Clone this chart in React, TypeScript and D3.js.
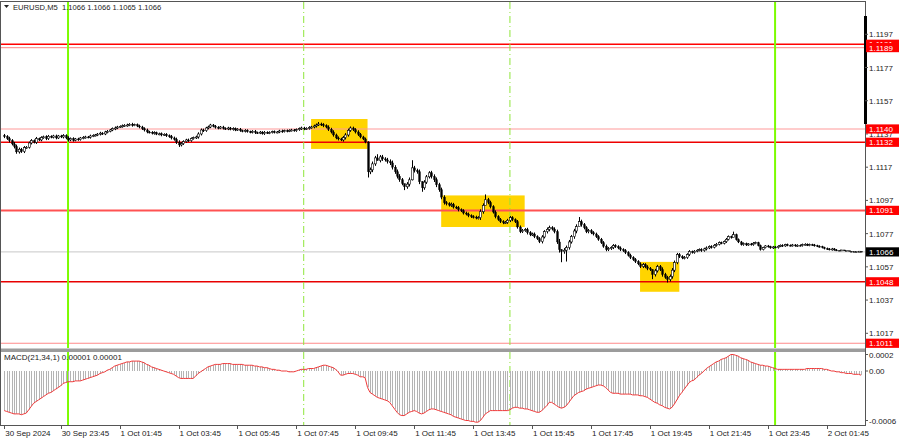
import React from "react";
import * as d3 from "d3";

// close prices, in pips above 1.1000 (5-minute bars from 30 Sep 21:50)
const closes = [
  135.5, 134.2, 133.0, 131.0, 129.5, 126.2, 127.8, 126.4, 128.8, 129.0,
  131.6, 133.0, 132.0, 134.2, 133.4, 134.8, 135.3, 134.2, 135.6, 135.0,
  135.8, 134.6, 135.8, 135.2, 136.0, 134.6, 133.4, 134.2, 133.2, 134.0,
  133.6, 134.6, 134.9, 135.2, 135.0, 135.8, 136.1, 136.4, 136.9, 137.5,
  137.0, 138.2, 138.6, 139.4, 140.2, 140.6, 141.2, 141.6, 141.9, 142.2,
  142.4, 142.8, 142.3, 142.6, 141.8, 141.2, 140.1, 139.4, 138.2, 138.0,
  137.4, 137.8, 136.9, 137.1, 136.4, 136.8, 135.9, 135.5, 134.6, 133.8,
  132.0, 130.4, 131.2, 132.4, 133.4, 133.0, 134.2, 134.8, 135.2, 137.0,
  139.4, 139.0, 140.6, 141.2, 142.4, 141.6, 141.0, 140.5, 141.2, 140.4,
  140.0, 140.6, 139.8, 140.2, 139.4, 139.9, 139.0, 138.6, 139.2, 138.4,
  138.0, 138.6, 137.8, 137.6, 138.1, 137.2, 138.0, 137.6, 137.9, 138.4,
  138.0, 138.2, 138.8, 138.5, 139.0, 138.7, 139.2, 139.4, 139.0, 139.6,
  140.2, 140.6, 140.0, 140.4, 140.9, 141.2, 141.8, 142.4, 143.0, 142.6,
  142.0, 141.2, 139.8, 138.2, 136.4, 134.6, 134.0, 133.4, 134.8, 136.4,
  139.2, 140.6, 139.6, 138.2, 136.8, 135.2, 134.0, 132.2, 114.2, 115.4,
  119.0, 122.6, 121.0, 123.2, 122.0, 121.4, 120.4, 119.6, 117.0, 114.2,
  111.6, 109.4, 107.2, 105.2, 106.8, 109.4, 116.6, 115.0, 114.2, 108.2,
  104.6, 108.0, 111.2, 113.6, 111.4, 109.4, 106.4, 103.4, 99.0, 95.6,
  95.0, 94.2, 94.6, 93.0, 92.6, 91.4, 90.8, 89.4, 88.8, 87.8,
  87.2, 87.0, 86.4, 86.6, 90.2, 94.0, 97.4, 95.8, 93.2, 90.0,
  87.2, 85.6, 84.2, 83.6, 83.8, 85.0, 86.6, 85.4, 84.2, 81.0,
  78.2, 79.0, 79.4, 77.6, 76.4, 76.8, 75.2, 74.0, 72.2, 75.0,
  78.2, 79.6, 80.6, 79.8, 78.2, 72.0, 67.4, 66.2, 67.0, 68.6,
  72.0, 75.2, 78.6, 81.2, 84.2, 82.4, 80.6, 78.2, 78.8, 77.6,
  76.8, 75.2, 73.6, 71.6, 69.4, 67.4, 68.0, 68.6, 69.8, 69.2,
  68.4, 67.4, 66.8, 65.6, 64.0, 62.6, 61.4, 60.2, 58.8, 57.2,
  58.4, 57.0, 56.0, 55.4, 52.4, 54.6, 57.2, 55.4, 52.4, 50.8,
  49.4, 51.2, 55.0, 59.6, 64.4, 63.2, 62.4, 62.6, 64.4, 66.2,
  65.6, 66.4, 67.0, 67.4, 66.8, 67.8, 68.4, 69.2, 68.8, 70.0,
  70.6, 71.6, 71.2, 72.2, 73.6, 75.2, 74.6, 76.4, 73.4, 72.0,
  70.4, 71.0, 70.2, 70.8, 70.4, 71.2, 71.6, 69.8, 67.4, 68.6,
  69.6, 69.2, 68.4, 69.0, 68.6, 69.4, 70.0, 69.6, 70.4, 70.0,
  69.8, 70.2, 69.6, 70.0, 69.8, 70.4, 70.6, 70.0, 70.4, 70.2,
  69.8, 69.4, 69.2, 68.6, 68.0, 67.8, 67.4, 67.8, 67.2, 67.0,
  66.8, 67.2, 66.6, 66.8, 66.4, 66.0, 66.2, 65.8, 66.4, 66.0,
];
const firstOpen = 136.0;

// wick length beyond the body, tenths of a pip
const wicks = [
  10,8,11,9,12,11,10,8,9,7, 8,9,7,10,6,8,7,9,8,6, 7,8,6,7,9,8,10,7,8,6, 7,6,8,7,6,8,7,6,7,8,
  6,7,8,6,7,9,7,6,8,7, 8,7,9,6,7,8,7,9,8,7, 7,8,6,7,8,6,7,8,9,8, 10,12,9,8,7,8,7,6,8,10,
  9,8,7,8,7,6,8,7,6,7, 6,7,6,8,7,6,7,6,7,6, 6,7,8,6,7,6,8,6,7,6, 7,6,7,8,6,7,6,7,6,7,
  7,8,7,6,8,7,8,9,10,8, 9,8,10,9,10,8,9,7,10,11, 10,9,8,9,10,8,7,8,20,14,
  14,12,10,11,12,10,12,13,14,12, 14,12,11,13,12,14,16,12,11,14, 15,12,11,10,12,13,14,12,13,11,
  10,9,11,9,8,10,8,9,8,9, 8,9,8,9,14,12,16,11,10,9, 10,9,8,9,8,9,10,9,8,10,
  9,8,9,11,9,8,9,8,9,11, 9,11,12,9,10,12,18,14,13,12, 12,10,13,14,14,12,10,9,10,9,
  9,8,9,8,9,10,9,8,9,8, 8,9,8,9,8,9,8,9,8,9, 9,8,10,9,14,12,10,9,13,10,
  14,12,13,12,10,9,8,9,8,9, 6,7,6,7,8,7,9,7,8,7, 8,7,6,7,8,7,6,7,6,7,
  6,7,6,5,6,7,6,5,6,5, 5,6,5,6,5,6,5,6,5,6, 5,6,5,6,5,6,6,5,6,5, 6,5,6,5,5,6,5,6,5,5,
];

// bars with long shadows: index, high, low (pips)
const spikeBars = [128, 148, 152, 163, 166, 170, 196, 227, 229, 234, 264, 270, 297];
const spikeHighs = [144.2, 132.6, 124.8, 107.0, 121.2, 108.6, 100.6, 67.6, 69.8, 87.0, 55.6, 51.6, 78.2];
const spikeLows = [141.8, 110.8, 121.0, 103.2, 109.0, 102.2, 94.5, 59.8, 60.2, 83.2, 49.6, 47.6, 75.8];

// MACD(21,34,1) main, units of 0.00001
const macdValues = [
  -48,-49,-50,-51,-52,-52,-52,-53,-52,-51, -47,-43,-39,-37,-35,-33,-31,-29,-27,-26,
  -24,-22,-20,-18,-15,-14,-13,-13,-13,-12, -12,-12,-11,-10,-9,-8,-7,-6,-5,-3,
  -2,-1,1,2,4,6,7,8,9,10, 11,11,12,12,12,12,11,10,8,7,
  5,4,3,2,1,0,-1,-2,-3,-4, -6,-8,-9,-9,-9,-9,-9,-9,-6,-3,
  -1,1,3,5,6,7,8,8,8,9, 9,9,9,8,8,8,8,8,7,7,
  7,7,6,6,5,5,4,4,3,2, 2,1,1,0,0,0,-1,-1,-1,0,
  1,2,2,2,3,3,3,4,5,6, 7,7,6,5,4,2,-1,-5,-5,-4,
  -3,-3,-3,-4,-5,-7,-7,-8,-20,-26, -28,-30,-32,-33,-34,-35,-36,-38,-42,-46,
  -50,-53,-54,-54,-52,-50,-49,-48,-49,-51, -52,-51,-49,-47,-46,-46,-47,-48,-49,-50,
  -51,-52,-53,-55,-56,-57,-58,-59,-60,-60, -61,-61,-62,-62,-60,-56,-52,-50,-48,-48,
  -48,-48,-48,-48,-48,-48,-47,-45,-44,-44, -45,-45,-46,-46,-47,-48,-49,-50,-50,-48,
  -45,-42,-38,-38,-40,-42,-44,-45,-44,-42, -38,-34,-30,-28,-26,-25,-24,-22,-21,-20,
  -19,-18,-17,-17,-18,-20,-23,-26,-27,-27, -27,-28,-28,-28,-28,-28,-29,-29,-29,-30,
  -30,-31,-32,-34,-36,-38,-39,-41,-42,-44, -45,-46,-44,-40,-35,-30,-26,-22,-18,-14,
  -12,-11,-8,-5,-3,0,3,5,7,9, 11,12,14,15,16,18,20,20,19,18,
  16,15,14,13,11,10,9,8,7,7, 6,6,5,4,3,2,2,2,2,2,
  2,2,2,2,2,2,2,3,3,3, 3,3,3,3,2,2,1,0,0,-1,
  -1,-2,-2,-3,-3,-3,-4,-4,-4,-5,
];

const priceTicks = [1.1197, 1.1177, 1.1157, 1.1137, 1.1117, 1.1097, 1.1077, 1.1057, 1.1037, 1.1017];
const macdTicks = [0.0002, 0, -0.0006];
const macdTickLabels = ["0.0002", "0.00", "-0.0006"];

const timeTickBars = [0, 23, 47, 71, 95, 119, 143, 167, 191, 215, 239, 263, 287, 311, 335];
const timeTickLabels = [
  "30 Sep 2024", "30 Sep 23:45", "1 Oct 01:45", "1 Oct 03:45", "1 Oct 05:45", "1 Oct 07:45",
  "1 Oct 09:45", "1 Oct 11:45", "1 Oct 13:45", "1 Oct 15:45", "1 Oct 17:45", "1 Oct 19:45",
  "1 Oct 21:45", "1 Oct 23:45", "2 Oct 01:45",
];

const levelPrices = [1.1191, 1.1189, 1.1140, 1.1132, 1.1091, 1.1048, 1.1011];
const levelLabels = ["1.1191", "1.1189", "1.1140", "1.1132", "1.1091", "1.1048", "1.1011"];
const levelColors = ["#ff0000", "#ff9a9a", "#ff9a9a", "#ee0000", "#ff5252", "#e80000", "#ff8a8a"];
const levelWidths = [1.5, 1.2, 1.2, 1.5, 2, 1.5, 1.2];

const currentPrice = 1.1066;

const solidVBars = [26, 314];
const dashedVBars = [122, 206];

const boxStartBars = [125, 178, 259];
const boxEndBars = [148, 212, 275];
const boxHighs = [1.1146, 1.1100, 1.1060];
const boxLows = [1.1128, 1.1081, 1.1042];

const titleText = "EURUSD,M5  1.1066 1.1066 1.1065 1.1066";
const macdTitle = "MACD(21,34,1) 0.00001 0.00001";

const FONT = "'Liberation Sans', Arial, sans-serif";

export default function App() {
  const W = 900, H = 441;
  const axisX = 865;
  const mainTop = 2, mainBottom = 348;
  const macdTop = 352, macdBottom = 425;

  const x = d3.scaleLinear().domain([0, closes.length - 1]).range([4.2, 861]);
  const y = d3.scaleLinear().domain([1.1017, 1.1197]).range([333.3, 34.3]);
  const ym = d3.scaleLinear().domain([-0.0006, 0]).range([420.5, 371]);
  const p = (v: number) => 1.1 + v / 10000;

  const bars = closes.map((c, i) => {
    const o = i === 0 ? firstOpen : closes[i - 1];
    const w = wicks[i] / 10;
    let hi = Math.max(o, c) + w;
    let lo = Math.min(o, c) - w;
    const k = spikeBars.indexOf(i);
    if (k >= 0) { hi = spikeHighs[k]; lo = spikeLows[k]; }
    return { i, o, c, hi, lo };
  });

  const macdLine = d3.line<number>()
    .x((_, i) => x(i))
    .y((d) => ym(d * 1e-5))(macdValues) || "";

  const bodyW = 2;

  return (
    <svg width={W} height={H} style={{ position: "absolute", left: 0, top: 0, background: "#fff" }}
      fontFamily={FONT}>
      <rect x={0} y={0} width={W} height={H} fill="#fff" />
      <defs>
        <clipPath id="mainClip"><rect x={0} y={mainTop} width={axisX} height={mainBottom - mainTop} /></clipPath>
        <clipPath id="macdClip"><rect x={0} y={macdTop} width={axisX} height={macdBottom - macdTop} /></clipPath>
      </defs>

      {/* main panel */}
      <g clipPath="url(#mainClip)">
        {boxStartBars.map((b, k) => (
          <rect key={"bx" + k} x={x(b)} y={y(boxHighs[k])} width={x(boxEndBars[k]) - x(b)}
            height={y(boxLows[k]) - y(boxHighs[k])} fill="#ffd400" />
        ))}
        <line x1={0} x2={axisX} y1={y(currentPrice)} y2={y(currentPrice)} stroke="#c8c8c8" strokeWidth={1} />
        {levelPrices.map((lp, k) => (
          <line key={"lv" + k} x1={0} x2={axisX} y1={y(lp)} y2={y(lp)} stroke={levelColors[k]} strokeWidth={levelWidths[k]} />
        ))}
        {solidVBars.map((b) => (
          <line key={"sv" + b} x1={x(b)} x2={x(b)} y1={mainTop} y2={mainBottom} stroke="#7cfc00" strokeWidth={2} />
        ))}
        {dashedVBars.map((b) => (
          <line key={"dv" + b} x1={x(b)} x2={x(b)} y1={mainTop} y2={mainBottom} stroke="#8ee63a" strokeWidth={1} strokeDasharray="7,3,1,3" />
        ))}
        {bars.map((d) => {
          const cx = Math.round(x(d.i)) + 0.5;
          const top = y(p(Math.max(d.o, d.c)));
          const bot = y(p(Math.min(d.o, d.c)));
          const bull = d.c > d.o;
          return (
            <g key={"c" + d.i}>
              <line x1={cx} x2={cx} y1={y(p(d.hi))} y2={y(p(d.lo))} stroke="#000" strokeWidth={1} />
              <rect x={cx - bodyW / 2} y={top} width={bodyW} height={Math.max(bot - top, 1)}
                fill={bull ? "#fff" : "#000"} stroke="#000" strokeWidth={bull ? 0.6 : 0.3} />
            </g>
          );
        })}
      </g>

      {/* separator */}
      <rect x={0} y={348.5} width={axisX} height={3.5} fill="#9c9c9c" />

      {/* MACD panel */}
      <g clipPath="url(#macdClip)">
        {solidVBars.map((b) => (
          <line key={"msv" + b} x1={x(b)} x2={x(b)} y1={macdTop} y2={macdBottom} stroke="#7cfc00" strokeWidth={2} />
        ))}
        {dashedVBars.map((b) => (
          <line key={"mdv" + b} x1={x(b)} x2={x(b)} y1={macdTop} y2={macdBottom} stroke="#8ee63a" strokeWidth={1} strokeDasharray="7,3,1,3" />
        ))}
        {macdValues.map((v, i) => (
          <line key={"h" + i} x1={Math.round(x(i)) + 0.5} x2={Math.round(x(i)) + 0.5} y1={ym(0)} y2={ym(v * 1e-5)}
            stroke="#b4b4b4" strokeWidth={1} />
        ))}
        <path d={macdLine} fill="none" stroke="#f03a3a" strokeWidth={1} />
      </g>
      <text x={4} y={360} fontSize={8} fill="#222">{macdTitle}</text>

      {/* frame */}
      <line x1={0.5} x2={0.5} y1={1} y2={macdBottom} stroke="#555" strokeWidth={1} />
      <line x1={0} x2={axisX} y1={1.5} y2={1.5} stroke="#555" strokeWidth={1} />
      <line x1={0} x2={axisX} y1={macdBottom + 0.5} y2={macdBottom + 0.5} stroke="#555" strokeWidth={1} />
      <line x1={axisX + 0.5} x2={axisX + 0.5} y1={1} y2={macdBottom + 1} stroke="#555" strokeWidth={1} />
      <rect x={864} y={16} width={3} height={108} fill="#000" />

      {/* title */}
      <path d="M4,5 L9,5 L6.5,8 Z" fill="#222" />
      <text x={13} y={10} fontSize={7.6} fill="#222" style={{ whiteSpace: "pre" }}>{titleText}</text>

      {/* price axis */}
      {priceTicks.map((t) => (
        <g key={"pt" + t}>
          <line x1={axisX} x2={axisX + 3} y1={y(t)} y2={y(t)} stroke="#555" />
          <text x={869} y={y(t) + 3} fontSize={8} fill="#222">{t.toFixed(4)}</text>
        </g>
      ))}
      {levelPrices.map((lp, k) => (
        <g key={"ll" + k}>
          <rect x={866} y={y(lp) - 4.6} width={33} height={9.2} fill="#ff0000" />
          <text x={869} y={y(lp) + 3} fontSize={8} fill="#fff">{levelLabels[k]}</text>
        </g>
      ))}
      <rect x={866} y={y(currentPrice) - 4.6} width={33} height={9.2} fill="#000" />
      <text x={869} y={y(currentPrice) + 3} fontSize={8} fill="#fff">{currentPrice.toFixed(4)}</text>

      {/* MACD axis */}
      {macdTicks.map((t, k) => (
        <g key={"mt" + k}>
          <line x1={axisX} x2={axisX + 3} y1={ym(t)} y2={ym(t)} stroke="#555" />
          <text x={869} y={ym(t) + 3} fontSize={8} fill="#222">{macdTickLabels[k]}</text>
        </g>
      ))}

      {/* time axis */}
      {timeTickBars.map((b, k) => (
        <g key={"tt" + k}>
          <line x1={Math.round(x(b)) + 0.5} x2={Math.round(x(b)) + 0.5} y1={macdBottom} y2={macdBottom + 4} stroke="#555" />
          <text x={x(b) + 1} y={436} fontSize={8} fill="#222">{timeTickLabels[k]}</text>
        </g>
      ))}
    </svg>
  );
}
